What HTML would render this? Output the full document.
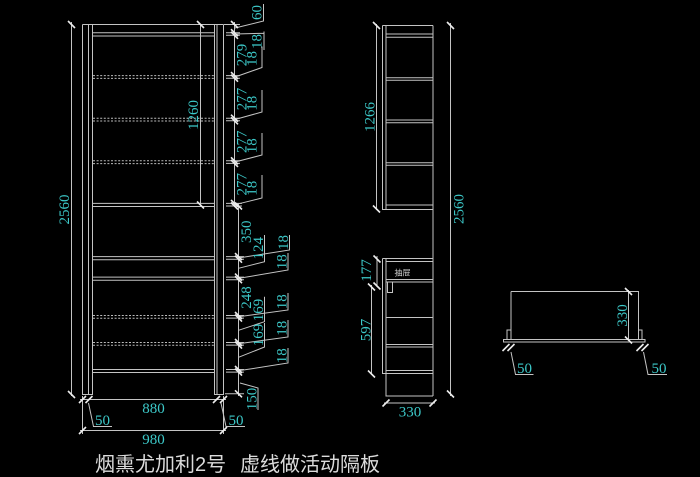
<!DOCTYPE html>
<html><head><meta charset="utf-8"><style>
html,body{margin:0;padding:0;background:#000;}
svg{display:block;}
.t{font-family:"Liberation Serif",serif;font-size:15px;fill:#3cc8c8;}
</style></head><body>
<svg width="700" height="477" viewBox="0 0 700 477" xmlns="http://www.w3.org/2000/svg">
<rect width="700" height="477" fill="#000"/>

<!-- LEFT CABINET -->
<g stroke="#c4c4c4" stroke-width="1" fill="none">
<path d="M82.5 24.5H223.5"/>
<path d="M82.5 24.5V394.5H92.5V24.5"/>
<path d="M88.5 24.5V394.5"/>
<path d="M214.5 24.5V394.5H223.5V24.5"/>
<path d="M217 24.5V394.5"/>
<path d="M92.5 32.7H214.5M92.5 36H214.5"/>
<path d="M92.5 203.4H214.5M92.5 206.5H214.5"/>
<path d="M92.5 256.6H214.5M92.5 259.7H214.5"/>
<path d="M92.5 277.1H214.5M92.5 280.2H214.5"/>
<path d="M92.5 369.5H214.5M92.5 372.5H214.5"/>
</g>
<g stroke="#bcbcbc" stroke-width="1" fill="none" stroke-dasharray="2 1.6">
<path d="M93 75.6H214M93 78.4H214"/>
<path d="M93 118.2H214M93 121H214"/>
<path d="M93 160.8H214M93 163.6H214"/>
<path d="M93 315.5H214M93 318.3H214"/>
<path d="M93 342.5H214M93 345.3H214"/>
</g>

<!-- left dims lines -->
<g stroke="#c4c4c4" stroke-width="1" fill="none">
<path d="M71.5 22V396"/>
<path d="M200.5 24.5V206"/>
<path d="M234.5 22V207"/>
<path d="M238.5 203V396"/>
<path d="M224 24.5H240M226 32.7H240M226 35.3H240M226 75.6H240M226 78.2H240M226 118.2H240M226 120.8H240M226 160.8H240M226 163.4H240M226 203.4H242M226 206H242"/>
<path d="M226 256.6H244M226 259.2H244M226 277.1H244M226 279.7H244M226 315.5H244M226 318.1H244M226 342.5H244M226 345.1H244M226 369.5H244M226 372.1H244M225 393.8H244"/>
<path d="M80 399.5H226"/>
<path d="M80 430.5H226"/>
<path d="M82.5 396V434M223.5 396V434"/>
<path d="M88.5 403L93.5 426.5H112"/>
<path d="M221 403L226 426.5H245"/>
<path d="M263.5 4V21L235 28"/>
<path d="M264 31.5V50M264 33.3L235 34"/>
<path d="M262 46.5V67.5L235 77"/>
<path d="M262 90V112L235 119.5"/>
<path d="M262 133V155L235 162"/>
<path d="M262 175V198L235 204.7"/>
<path d="M264.5 235V261.7L238.5 268.3"/>
<path d="M289.5 235V250L238.5 258"/>
<path d="M288 253V270L238.5 278.4"/>
<path d="M264.5 296.7V321.7L238.5 330.3"/>
<path d="M288 293V310L238.5 316.8"/>
<path d="M264.5 323V347L238.5 357.3"/>
<path d="M288 320V337L238.5 343.8"/>
<path d="M288 348V363L238.5 370.8"/>
<path d="M240 383L258 388V410"/>
</g>

<!-- ticks -->
<g stroke="#ececec" stroke-width="1.6" fill="none">
<path d="M68 21l7 7M68 391l7 7"/>
<path d="M197 21l7 7M197 201.5l7 7"/>
<path d="M231 21l7 7M231 29.2l7 7M231 31.8l7 7M231 72.1l7 7M231 74.7l7 7M231 114.7l7 7M231 117.3l7 7M231 157.3l7 7M231 159.9l7 7M231 199.9l7 7M231 202.5l7 7"/>
<path d="M235 202.5l7 7M235 253.1l7 7M235 255.7l7 7M235 273.6l7 7M235 276.2l7 7M235 312l7 7M235 314.6l7 7M235 339l7 7M235 341.6l7 7M235 366l7 7M235 368.6l7 7M235 390.3l7 7"/>
<path d="M79 403l7 -7M85.5 403l7 -7M213 403l7 -7M220 403l7 -7"/>
<path d="M79 434l7 -7M220 434l7 -7"/>
</g>

<g class="t">
<text transform="translate(69,209.5) rotate(-90)" text-anchor="middle">2560</text>
<text transform="translate(198,115) rotate(-90)" text-anchor="middle">1260</text>
<text transform="translate(261.5,12.5) rotate(-90)" text-anchor="middle">60</text>
<text transform="translate(261.5,41.5) rotate(-90)" text-anchor="middle">18</text>
<text transform="translate(246.5,55) rotate(-90)" text-anchor="middle">279</text>
<text transform="translate(256.5,58.5) rotate(-90)" text-anchor="middle">18</text>
<text transform="translate(246.5,99) rotate(-90)" text-anchor="middle">277</text>
<text transform="translate(256.5,103.3) rotate(-90)" text-anchor="middle">18</text>
<text transform="translate(246.5,141.7) rotate(-90)" text-anchor="middle">277</text>
<text transform="translate(256.5,145.8) rotate(-90)" text-anchor="middle">18</text>
<text transform="translate(246.5,184.2) rotate(-90)" text-anchor="middle">277</text>
<text transform="translate(256.5,188.3) rotate(-90)" text-anchor="middle">18</text>
<text transform="translate(251,231.7) rotate(-90)" text-anchor="middle">350</text>
<text transform="translate(263,248.3) rotate(-90)" text-anchor="middle">124</text>
<text transform="translate(288,242.5) rotate(-90)" text-anchor="middle">18</text>
<text transform="translate(286.5,261.7) rotate(-90)" text-anchor="middle">18</text>
<text transform="translate(251,297.5) rotate(-90)" text-anchor="middle">248</text>
<text transform="translate(263,310) rotate(-90)" text-anchor="middle">169</text>
<text transform="translate(286.5,301.7) rotate(-90)" text-anchor="middle">18</text>
<text transform="translate(263,335) rotate(-90)" text-anchor="middle">169</text>
<text transform="translate(286.5,328.3) rotate(-90)" text-anchor="middle">18</text>
<text transform="translate(286.5,355.8) rotate(-90)" text-anchor="middle">18</text>
<text transform="translate(256.5,399) rotate(-90)" text-anchor="middle">150</text>
<text x="153.5" y="413" text-anchor="middle">880</text>
<text x="153.5" y="444" text-anchor="middle">980</text>
<text x="102.5" y="425" text-anchor="middle">50</text>
<text x="236" y="425" text-anchor="middle">50</text>
</g>

<!-- MIDDLE CABINET -->
<g stroke="#c4c4c4" stroke-width="1" fill="none">
<path d="M382.5 25.5H433M382.5 25.5V209.5H433M386 25.5V209.5"/>
<path d="M433 25.5V396"/>
<path d="M386 34H433M386 37.3H433M386 77.7H433M386 80.3H433M386 120H433M386 122.7H433M386 162.7H433M386 165.3H433M386 205H433"/>
<path d="M382.5 258.5H433M382.5 258.5V373.5H433M386 258.5V396H433"/>
<path d="M386 261.5H433M386 279.5H433M386 282H433M386 317.5H433M386 344.5H433M386 347H433M386 370.5H433"/>
<path d="M387.5 282V292.5H392.5V282"/>
<path d="M376.5 24V210"/>
<path d="M450.5 23V396"/>
<path d="M377 256V287"/>
<path d="M371.5 285V375"/>
<path d="M384 403H435"/>
</g>
<g stroke="#ececec" stroke-width="1.6" fill="none">
<path d="M373 22l7 7M373 205.5l7 7"/>
<path d="M447 22l7 7M447 390.5l7 7"/>
<path d="M373.5 255.5l7 7M373.5 282.5l7 7"/>
<path d="M368 283.5l7 7M368 370.5l7 7"/>
<path d="M382.5 406.5l7 -7M429.5 406.5l7 -7"/>
</g>
<g class="t">
<text transform="translate(374.5,117) rotate(-90)" text-anchor="middle">1266</text>
<text transform="translate(463.5,209) rotate(-90)" text-anchor="middle">2560</text>
<text transform="translate(371,270.5) rotate(-90)" text-anchor="middle">177</text>
<text transform="translate(370.5,330) rotate(-90)" text-anchor="middle">597</text>
<text x="410" y="416.5" text-anchor="middle">330</text>
</g>
<text x="394.5" y="275.5" font-family="'Liberation Sans','Noto Sans CJK SC',sans-serif" font-size="8" fill="#d8d8d8">抽屉</text>

<!-- RIGHT DRAWER -->
<g stroke="#c4c4c4" stroke-width="1" fill="none">
<path d="M511 291.5H638.5V339.5M511 291.5V339.5"/>
<path d="M503.5 339.5H645V342H503.5Z"/>
<path d="M507 339.5V330H511M638.5 330H642V339.5"/>
<path d="M628.5 290V341"/>
<path d="M511 352L515.5 374.5H533.5"/>
<path d="M643.5 352L648 374.5H667"/>
</g>
<g stroke="#ececec" stroke-width="1.6" fill="none">
<path d="M625 288l7 7M625 336.5l7 7"/>
<path d="M502.5 351l7 -7M507.5 351l7 -7M636.5 351l7 -7M641.5 351l7 -7"/>
</g>
<g class="t">
<text transform="translate(627,315.5) rotate(-90)" text-anchor="middle">330</text>
<text x="524.5" y="373" text-anchor="middle">50</text>
<text x="659" y="373" text-anchor="middle">50</text>
</g>

<!-- TITLE -->
<g font-family="'Liberation Sans','Noto Sans CJK SC',sans-serif" font-size="20" fill="#dcdcdc">
<text x="95" y="471">烟熏尤加利2号</text>
<text x="240" y="471">虚线做活动隔板</text>
</g>
</svg>
</body></html>
